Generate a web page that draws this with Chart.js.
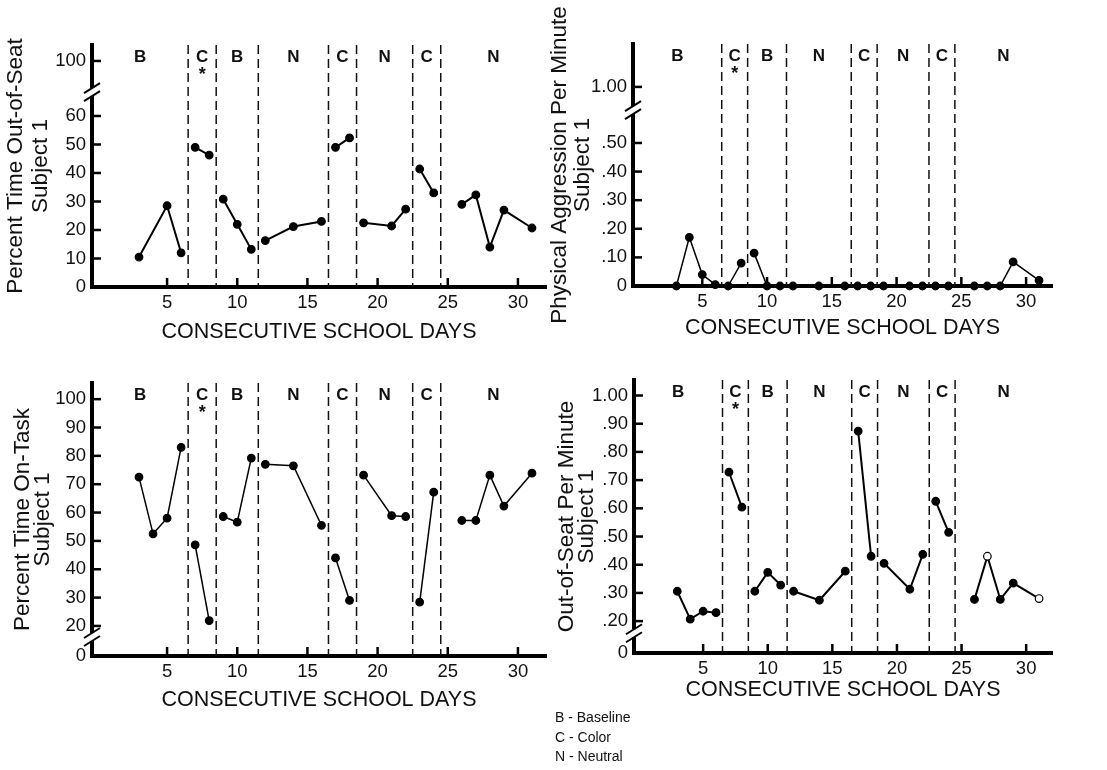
<!DOCTYPE html>
<html>
<head>
<meta charset="utf-8">
<script src="https://cdn.jsdelivr.net/npm/chart.js@4.4.1/dist/chart.umd.min.js"></script>
<style>
  body { margin: 0; background: #fff; width: 1107px; height: 770px; position: relative; overflow: hidden; font-family: "Liberation Sans", Arial, sans-serif; }
  canvas { position: absolute; }
  #legend { position: absolute; left: 555px; top: 708px; font-size: 14px; line-height: 19.5px; color: #111; }
</style>
</head>
<body>
<canvas id="c1" width="560" height="350" style="left:0;top:0;width:560px;height:350px"></canvas>
<canvas id="c2" width="567" height="350" style="left:540px;top:0;width:567px;height:350px"></canvas>
<canvas id="c3" width="560" height="370" style="left:0;top:350px;width:560px;height:370px"></canvas>
<canvas id="c4" width="567" height="370" style="left:540px;top:350px;width:567px;height:370px"></canvas>
<div id="legend">B - Baseline<br>C - Color<br>N - Neutral</div>
<script>
// school days with a session
const days = [3, 4, 5, 6, 7, 8, 9, 10, 11, 12, 14, 16, 17, 18, 19, 21, 22, 23, 24, 26, 27, 28, 29, 31];

// phases: B baseline, C color, N neutral; edges sit between days
const phaseNames = ['B', 'C', 'B', 'N', 'C', 'N', 'C', 'N'];
const phaseEdges = [6.5, 8.5, 11.5, 16.5, 18.5, 22.5, 24.5];
const starPhase = 1;

const xTicks = [5, 10, 15, 20, 25, 30];

// one value per day above (null = not recorded)
const outOfSeatPct = [10.5, null, 28.5, 12, 49, 46.3, 30.8, 22, 13.2, 16.3, 21.2, 23, 49, 52.3, 22.5, 21.4, 27.3, 41.4, 33, 29, 32.3, 14, 27, 20.7];
const aggressionRate = [0, 0.17, 0.04, 0.005, 0, 0.08, 0.115, 0, 0, 0, 0, 0, 0, 0, 0, 0, 0, 0, 0, 0, 0, 0, 0.084, 0.02];
const onTaskPct = [72.5, 52.5, 58, 83, 48.6, 21.9, 58.6, 56.6, 79.2, 77, 76.5, 55.5, 44, 29, 73.2, 58.9, 58.6, 28.4, 67.2, 57.2, 57.2, 73.2, 62.3, 73.9];
const outOfSeatRate = [0.306, 0.207, 0.235, 0.23, 0.728, 0.604, 0.306, 0.373, 0.328, 0.306, 0.274, 0.377, 0.874, 0.43, 0.405, 0.313, 0.437, 0.625, 0.515, 0.277, 0.43, 0.277, 0.335, 0.28];
const openRateDays = [27, 31];

// y ticks (scale position) and their printed labels; the axis is broken,
// so the outermost tick stands for a value past the break
const yTicks1 = [0, 10, 20, 30, 40, 50, 60, 79.3];
const yLabels1 = ['0', '10', '20', '30', '40', '50', '60', '100'];
const yTicks2 = [0, 0.1, 0.2, 0.3, 0.4, 0.5, 0.696];
const yLabels2 = ['0', '.10', '.20', '.30', '.40', '.50', '1.00'];
const yTicks3 = [9.4, 20, 30, 40, 50, 60, 70, 80, 90, 100];
const yLabels3 = ['0', '20', '30', '40', '50', '60', '70', '80', '90', '100'];
const yTicks4 = [0.087, 0.2, 0.3, 0.4, 0.5, 0.6, 0.7, 0.8, 0.9, 1.0];
const yLabels4 = ['0', '.20', '.30', '.40', '.50', '.60', '.70', '.80', '.90', '1.00'];

const FONT = '"Liberation Sans", Arial, sans-serif';
const xMin = -0.35, xMax = 32;

const panels = [
  { id: 'c1', values: outOfSeatPct, open: [], yTitle: ['Percent Time Out-of-Seat', 'Subject 1'],
    yMin: 0, yMax: 84.9, yTicks: yTicks1, yLabels: yLabels1, breakAt: 68.4,
    padTop: 45, padRight: 14, yWidth: 92, xHeight: 63, lw: 2, titleLH: 25, yTitlePad: 3, xTitlePad: 5 },
  { id: 'c2', values: aggressionRate, open: [], yTitle: ['Physical Aggression Per Minute', 'Subject 1'],
    yMin: 0, yMax: 0.846, yTicks: yTicks2, yLabels: yLabels2, breakAt: 0.615,
    padTop: 44, padRight: 55, yWidth: 93, xHeight: 64, lw: 1.5, titleLH: 23, yTitlePad: 8, xTitlePad: 9 },
  { id: 'c3', values: onTaskPct, open: [], yTitle: ['Percent Time On-Task', 'Subject 1'],
    yMin: 9.4, yMax: 105.7, yTicks: yTicks3, yLabels: yLabels3, breakAt: 16.1,
    padTop: 33, padRight: 14, yWidth: 92, xHeight: 64, lw: 1.5, titleLH: 20, yTitlePad: 12.5, xTitlePad: 7 },
  { id: 'c4', values: outOfSeatRate, open: openRateDays, yTitle: ['Out-of-Seat Per Minute', 'Subject 1'],
    yMin: 0.087, yMax: 1.055, yTicks: yTicks4, yLabels: yLabels4, breakAt: 0.157,
    padTop: 30, padRight: 55, yWidth: 94, xHeight: 67, lw: 2, titleLH: 20, yTitlePad: 16.5, xTitlePad: 17 }
];

// phase lines, phase letters, inward ticks and the axis break
const panelMarks = {
  id: 'panelMarks',
  beforeDatasetsDraw(chart) {
    const { ctx, chartArea: a, scales: { x } } = chart;
    ctx.save();
    ctx.strokeStyle = '#111';
    ctx.lineWidth = 1.5;
    ctx.setLineDash([9, 5]);
    phaseEdges.forEach(e => {
      const px = x.getPixelForValue(e);
      ctx.beginPath();
      ctx.moveTo(px, a.top);
      ctx.lineTo(px, a.bottom);
      ctx.stroke();
    });
    ctx.setLineDash([]);
    ctx.fillStyle = '#111';
    ctx.textAlign = 'center';
    ctx.textBaseline = 'middle';
    const bounds = [x.min, ...phaseEdges, x.max];
    phaseNames.forEach((n, i) => {
      const cx = x.getPixelForValue((bounds[i] + bounds[i + 1]) / 2);
      ctx.font = 'bold 17px ' + FONT;
      ctx.fillText(n, cx, a.top + 12);
      if (i === starPhase) {
        ctx.font = 'bold 18px ' + FONT;
        ctx.fillText('*', cx, a.top + 30);
      }
    });
    ctx.restore();
  },
  afterDraw(chart, args, opts) {
    const { ctx, chartArea: a, scales: { x, y } } = chart;
    ctx.save();
    ctx.strokeStyle = '#000';
    ctx.lineWidth = 2.5;
    y.ticks.forEach(t => {
      const py = y.getPixelForValue(t.value);
      ctx.beginPath();
      ctx.moveTo(a.left, py);
      ctx.lineTo(a.left + 9, py);
      ctx.stroke();
    });
    x.ticks.forEach(t => {
      const px = x.getPixelForValue(t.value);
      ctx.beginPath();
      ctx.moveTo(px, a.bottom);
      ctx.lineTo(px, a.bottom - 9);
      ctx.stroke();
    });
    const yb = y.getPixelForValue(opts.breakAt);
    ctx.fillStyle = '#fff';
    ctx.fillRect(a.left - 4, yb - 4, 8, 8);
    ctx.lineWidth = 2;
    [-4, 4].forEach(off => {
      ctx.beginPath();
      ctx.moveTo(a.left - 8, yb + off + 5);
      ctx.lineTo(a.left + 8, yb + off - 5);
      ctx.stroke();
    });
    ctx.restore();
  }
};

function makeChart(p) {
  const groups = phaseNames.map(() => []);
  days.forEach((d, i) => {
    const v = p.values[i];
    if (v === null) return;
    const ph = phaseEdges.filter(e => e < d).length;
    groups[ph].push({ x: d, y: v });
  });
  const datasets = groups.filter(g => g.length).map(g => ({
    data: g,
    borderColor: '#000',
    borderWidth: p.lw,
    pointRadius: 3.8,
    pointBorderColor: '#000',
    pointBorderWidth: 1.2,
    pointBackgroundColor: g.map(pt => p.open.includes(pt.x) ? '#fff' : '#000'),
    tension: 0,
    clip: false
  }));

  return new Chart(document.getElementById(p.id), {
    type: 'line',
    data: { datasets },
    options: {
      responsive: false,
      animation: false,
      layout: { padding: { top: p.padTop, right: p.padRight, left: 0, bottom: 0 } },
      plugins: {
        legend: { display: false },
        tooltip: { enabled: false },
        panelMarks: { breakAt: p.breakAt }
      },
      scales: {
        x: {
          type: 'linear',
          min: xMin,
          max: xMax,
          grid: { display: false, drawTicks: false },
          border: { display: true, color: '#000', width: 4 },
          afterBuildTicks: s => { s.ticks = xTicks.map(v => ({ value: v })); },
          afterFit: s => { s.height = p.xHeight; },
          ticks: { color: '#111', font: { size: 18.5, family: FONT }, padding: 5, autoSkip: false, maxRotation: 0, callback: v => String(v) },
          title: { display: true, text: 'CONSECUTIVE SCHOOL DAYS', color: '#111', font: { size: 21.5, family: FONT }, padding: { top: 0, bottom: p.xTitlePad } }
        },
        y: {
          type: 'linear',
          min: p.yMin,
          max: p.yMax,
          grid: { display: false, drawTicks: false },
          border: { display: true, color: '#000', width: 4 },
          afterBuildTicks: s => { s.ticks = p.yTicks.map(v => ({ value: v })); },
          afterFit: s => { s.width = p.yWidth; },
          ticks: { color: '#111', font: { size: 18.5, family: FONT }, padding: 6, autoSkip: false, callback: (v, i) => p.yLabels[i] },
          title: { display: true, text: p.yTitle, color: '#111', font: { size: 22.5, family: FONT, lineHeight: p.titleLH + 'px' }, padding: { top: p.yTitlePad, bottom: 0 } }
        }
      }
    },
    plugins: [panelMarks]
  });
}

panels.forEach(makeChart);
</script>
</body>
</html>
